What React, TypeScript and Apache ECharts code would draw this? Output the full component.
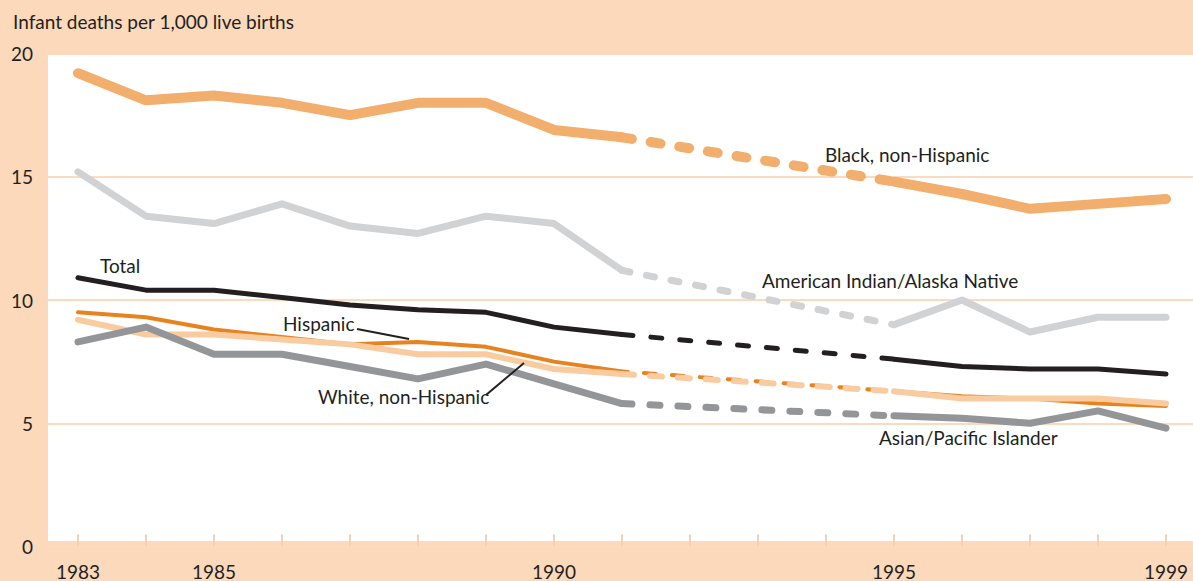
import React, { useEffect, useRef } from "react";
import * as echarts from "echarts";

const years = [1983, 1984, 1985, 1986, 1987, 1988, 1989, 1990, 1991, 1992, 1993, 1994, 1995, 1996, 1997, 1998, 1999];
const xLabelYears = [1983, 1985, 1990, 1995, 1999];
const yTicks = [0, 5, 10, 15, 20];

// null = gap between 1991 and 1995 (dashed bridge)
const black = [19.2, 18.1, 18.3, 18.0, 17.5, 18.0, 18.0, 16.9, 16.6, null, null, null, 14.8, 14.3, 13.7, 13.9, 14.1];
const amInd = [15.2, 13.4, 13.1, 13.9, 13.0, 12.7, 13.4, 13.1, 11.2, null, null, null, 9.0, 10.0, 8.7, 9.3, 9.3];
const total = [10.9, 10.4, 10.4, 10.1, 9.8, 9.6, 9.5, 8.9, 8.6, null, null, null, 7.6, 7.3, 7.2, 7.2, 7.0];
const hispanic = [9.5, 9.3, 8.8, 8.5, 8.2, 8.3, 8.1, 7.5, 7.1, null, null, null, 6.3, 6.1, 6.0, 5.8, 5.7];
const whiteNH = [9.2, 8.6, 8.6, 8.4, 8.2, 7.8, 7.8, 7.2, 7.0, null, null, null, 6.3, 6.0, 6.0, 6.0, 5.8];
const asian = [8.3, 8.9, 7.8, 7.8, 7.3, 6.8, 7.4, 6.6, 5.8, null, null, null, 5.3, 5.2, 5.0, 5.5, 4.8];

const FONT = "Lato";
const INK = "#231F20";
const PEACH = "#FBD9BA";

function solid(vals: (number | null)[]) {
  return years.map((y, i) => [y, vals[i] === null ? "-" : vals[i]]);
}
function bridge(vals: (number | null)[]) {
  const a = years.indexOf(1991);
  const b = years.indexOf(1995);
  return [[years[a], vals[a]], [years[b], vals[b]]];
}

function pair(name: string, vals: (number | null)[], color: string, width: number, dash: number[], dashOffset = 0) {
  return [
    {
      name,
      type: "line",
      data: solid(vals),
      showSymbol: false,
      symbol: "none",
      connectNulls: false,
      lineStyle: { color, width, cap: "round", join: "round" },
      silent: true,
    },
    {
      name: name + " (dashed)",
      type: "line",
      data: bridge(vals),
      showSymbol: false,
      symbol: "none",
      lineStyle: { color, width, type: dash, dashOffset, cap: "round" },
      silent: true,
    },
  ];
}

export default function App() {
  const ref = useRef<HTMLDivElement>(null);
  useEffect(() => {
    if (!ref.current) return;
    const chart = echarts.init(ref.current, null, { renderer: "svg" });
    const labelStyle = { fontFamily: FONT, fontSize: 19, fill: INK };
    chart.setOption({
      animation: false,
      backgroundColor: PEACH,
      grid: { left: 48, right: 0, top: 53.5, bottom: 34.5, containLabel: false },
      xAxis: {
        type: "value",
        min: 1982.559,
        max: 1999.397,
        axisLine: { show: false },
        splitLine: { show: false },
        axisTick: {
          show: true,
          inside: true,
          length: 12,
          customValues: years,
          lineStyle: { color: "#F8D2AE", width: 2 },
        },
        axisLabel: {
          customValues: xLabelYears,
          fontFamily: FONT,
          fontSize: 19,
          color: INK,
          margin: 15,
          formatter: (v: number) => String(v),
        },
      },
      yAxis: {
        type: "value",
        min: 0,
        max: 20,
        interval: 5,
        axisLine: { show: false },
        axisTick: { show: false },
        axisLabel: {
          fontFamily: FONT,
          fontSize: 19,
          color: INK,
          margin: 15,
          padding: [6, 0, 0, 0],
        },
        splitLine: { show: true, lineStyle: { color: "#FBDBBF", width: 2 } },
      },
      graphic: [
        {
          type: "rect",
          z: -10,
          silent: true,
          shape: { x: 48, y: 55, width: 1145, height: 486 },
          style: { fill: "#FFFFFF" },
        },
        {
          type: "text",
          x: 13,
          y: 21,
          style: { ...labelStyle, text: "Infant deaths per 1,000 live births", verticalAlign: "middle" },
        },
        { type: "text", x: 100, y: 265, style: { ...labelStyle, text: "Total", verticalAlign: "middle" } },
        { type: "text", x: 283, y: 323, style: { ...labelStyle, text: "Hispanic", verticalAlign: "middle" } },
        { type: "text", x: 318, y: 396, style: { ...labelStyle, text: "White, non-Hispanic", verticalAlign: "middle" } },
        { type: "text", x: 825, y: 154, style: { ...labelStyle, text: "Black, non-Hispanic", verticalAlign: "middle" } },
        { type: "text", x: 762, y: 280, style: { ...labelStyle, text: "American Indian/Alaska Native", verticalAlign: "middle" } },
        { type: "text", x: 879, y: 437, style: { ...labelStyle, text: "Asian/Pacific Islander", verticalAlign: "middle" } },
        {
          type: "line",
          z: 100,
          shape: { x1: 357, y1: 329, x2: 409, y2: 339 },
          style: { stroke: INK, lineWidth: 2 },
        },
        {
          type: "line",
          z: 100,
          shape: { x1: 486, y1: 395, x2: 524, y2: 363 },
          style: { stroke: INK, lineWidth: 2 },
        },
      ],
      series: [
        ...pair("American Indian/Alaska Native", amInd, "#D1D2D4", 7, [8, 17]),
        ...pair("Black, non-Hispanic", black, "#F2AE6D", 10, [10, 19]),
        ...pair("Hispanic", hispanic, "#E8821E", 4, [12, 16], 6),
        ...pair("White, non-Hispanic", whiteNH, "#F9CBA0", 6, [12, 16]),
        ...pair("Asian/Pacific Islander", asian, "#939598", 7, [10, 18]),
        ...pair("Total", total, INK, 5, [11, 18]),
      ],
    });
    return () => chart.dispose();
  }, []);
  return <div ref={ref} style={{ position: "fixed", left: 0, top: 0, width: 1193, height: 581 }} />;
}
